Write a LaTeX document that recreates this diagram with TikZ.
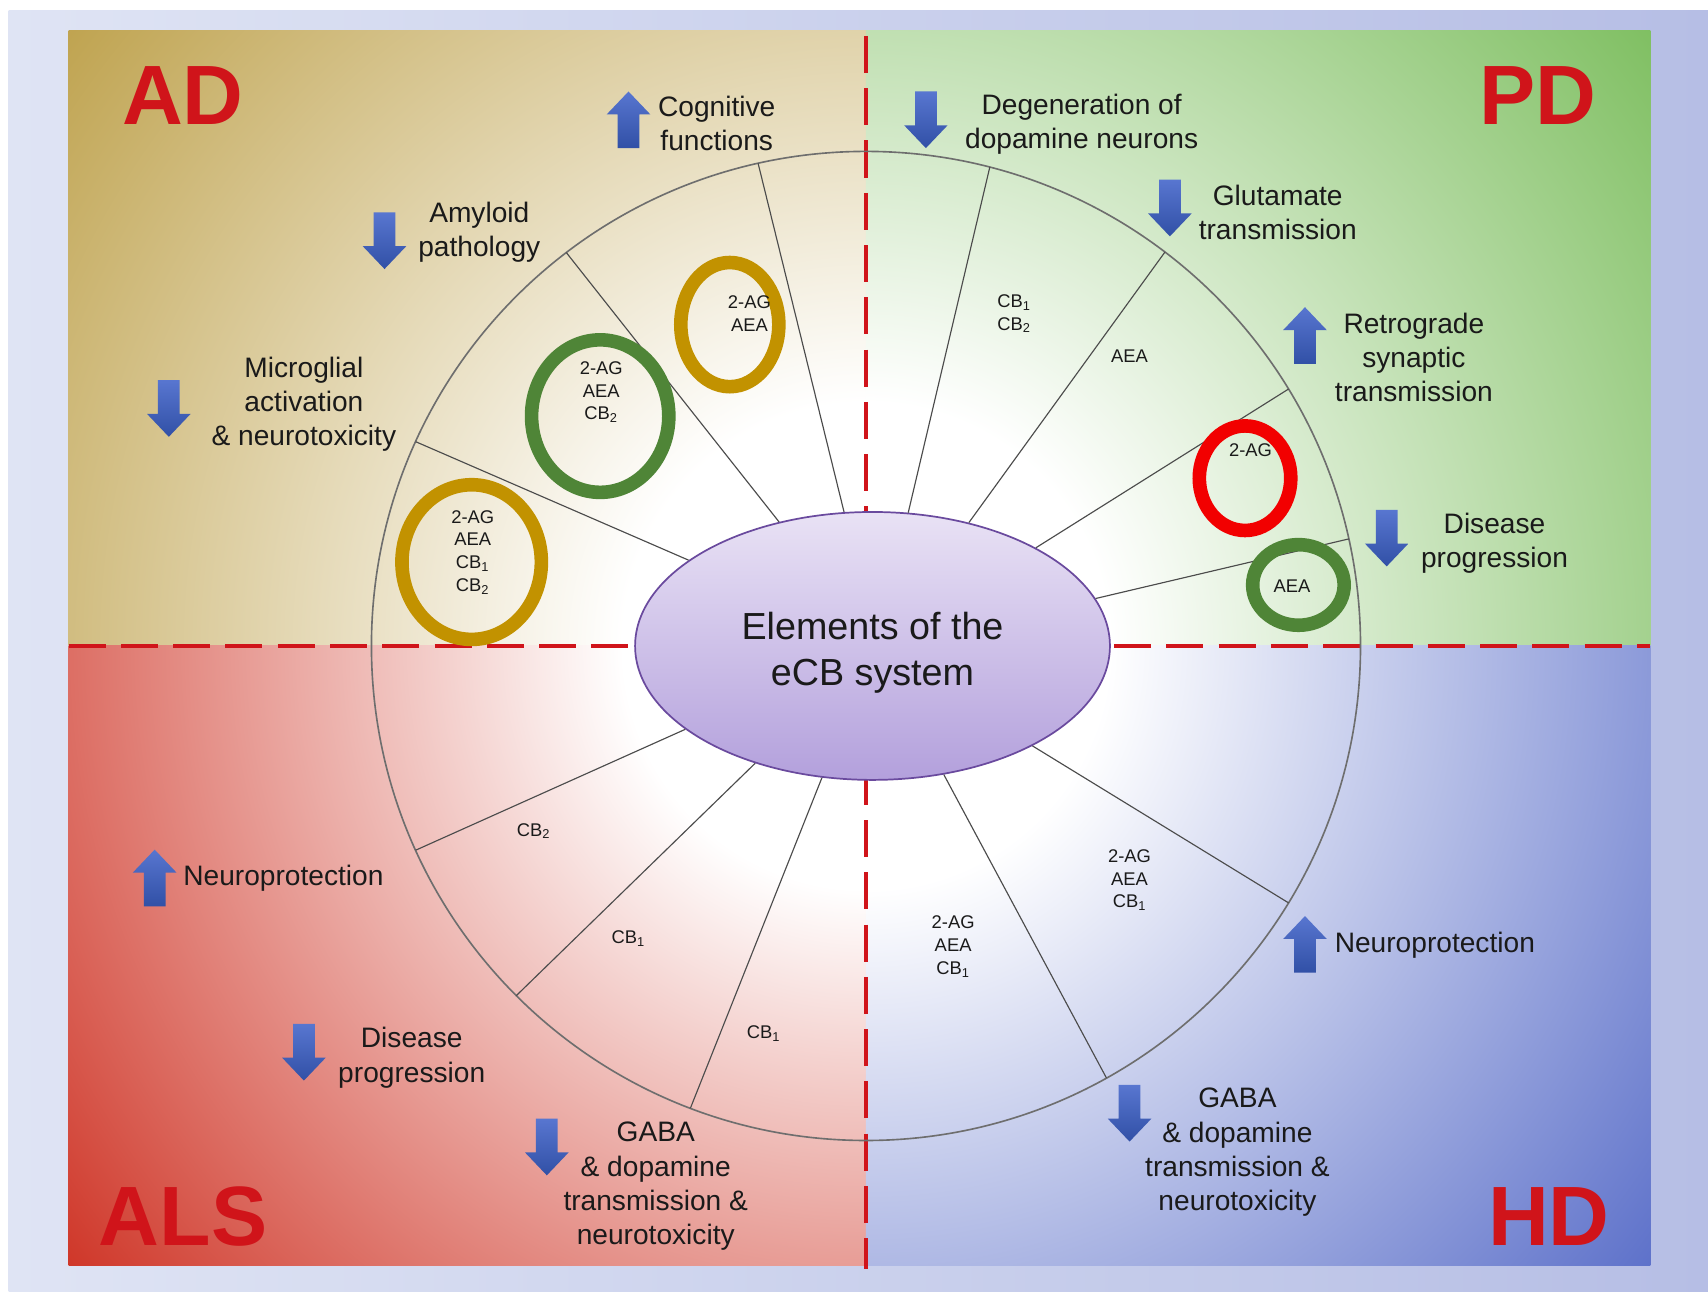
\documentclass[tikz,border=0pt]{standalone}
\usepackage{fontspec}
\setmainfont{Liberation Sans}
\usetikzlibrary{shapes.geometric}

\definecolor{adgold}{HTML}{BFA34F}
\definecolor{pdgreen}{HTML}{7DBE5F}
\definecolor{alsred}{HTML}{CF3628}
\definecolor{hdblue}{HTML}{5B6FC9}
\definecolor{bgleft}{HTML}{DFE4F4}
\definecolor{bgright}{HTML}{B6BEE5}
\definecolor{labred}{HTML}{D0141A}
\definecolor{ringgold}{HTML}{C29200}
\definecolor{ringgreen}{HTML}{4F8537}
\definecolor{ringred}{HTML}{F20000}
\definecolor{arrlt}{HTML}{5876D0}
\definecolor{arrdk}{HTML}{3150A6}
\definecolor{ecbtop}{HTML}{E9E2F5}
\definecolor{ecbbot}{HTML}{B3A0DC}
\definecolor{ecbline}{HTML}{6A4A9E}
\definecolor{txt}{HTML}{1A1A1A}
\definecolor{wheel}{HTML}{6E6E6E}

\colorlet{quadcol}{adgold}
\pgfdeclareradialshading[quadcol]{quadglow}{\pgfpointorigin}{color(0bp)=(white);color(6bp)=(white);color(25bp)=(quadcol);color(50bp)=(quadcol)}

\tikzset{
  note/.style={font=\fontsize{14.7}{17.9}\selectfont, text=txt, align=center, inner sep=0pt},
  seglabel/.style={font=\fontsize{9.6}{11.9}\selectfont, text=txt, align=center, inner sep=0pt},
  disease/.style={font=\bfseries\fontsize{44}{46}\selectfont, text=labred, inner sep=0pt},
  ring/.style={line width=0.25cm},
  spoke/.style={draw=black!70, line width=0.6pt},
  divider/.style={draw=labred, line width=2.1pt, dash pattern=on 0.68cm off 0.28cm},
  ecb/.style={ellipse, draw=ecbline, line width=0.9pt, top color=ecbtop, bottom color=ecbbot,
    minimum width=8.72cm, minimum height=4.92cm, inner sep=0pt},
  ecbtext/.style={align=center, inner sep=0pt, font=\fontsize{19.7}{23.8}\selectfont, text=txt},
  pics/dnarr/.style={code={
    \shade[top color=arrlt, bottom color=arrdk] (-10,26) -- (10,26) -- (10,-5) -- (20,-5)
      -- (0,-26) -- (-20,-5) -- (-10,-5) -- cycle;}},
  pics/uparr/.style={code={
    \shade[top color=arrlt, bottom color=arrdk] (-10,-26) -- (10,-26) -- (10,5) -- (20,5)
      -- (0,26) -- (-20,5) -- (-10,5) -- cycle;}},
}

\begin{document}
\begin{tikzpicture}[x=0.02cm,y=0.02cm]
\useasboundingbox (-795,-593) rectangle (773,593);
\fill[white] (-795,-593) rectangle (773,593);
\shade[left color=bgleft, right color=bgright] (-787,-593) rectangle (773,583);

% four disease quadrants
\foreach \xa/\ya/\xb/\yb/\qc in {-732/0/0/565/adgold, 0/0/720/565/pdgreen,
    -732/-569/0/0/alsred, 0/-569/720/0/hdblue}{
  \begin{scope}
    \clip (\xa,\ya) rectangle (\xb,\yb);
    \colorlet{quadcol}{\qc}
    \shade[shading=quadglow] (0,0) circle[radius=930];
  \end{scope}
}

% dashed dividers
\coordinate (vtop) at (0,560);
\coordinate (vbot) at (0,-572);
\coordinate (hlft) at (-732,0);
\coordinate (hrgt) at (720,0);
\draw[divider] (vtop) -- (vbot);
\draw[divider] (hlft) -- (hrgt);

% wheel and centre
\draw[wheel, line width=0.85pt] (0,0) circle[radius=454];
\node[ecb] (ecb) at (6,0) {};
\node[ecbtext] (ecbt) at (6,-6) {Elements of the\\eCB system};
\foreach \a in {12.5,31.3,52.8,75.5,102.6,127.3,155.6,204.4,225,249.2,299.1,328.7}
  \draw[spoke] (ecb.\a) -- (\a:454);

% highlighted rings
\draw[ring, ringgold] (-125,295) ellipse[x radius=45, y radius=57];
\draw[ring, ringgreen] (-244,211) ellipse[x radius=63, y radius=70];
\draw[ring, ringgold] (-362,77) ellipse[x radius=64, y radius=71];
\draw[ring, ringred] (348,154) ellipse[x radius=42, y radius=48];
\draw[ring, ringgreen] (397,56) ellipse[x radius=42, y radius=37];

% segment contents
\node[seglabel] (ad1) at (-107,305) {2-AG\\AEA};
\node[seglabel] (ad2) at (-243,233) {2-AG\\AEA\\CB\textsubscript{2}};
\node[seglabel] (ad3) at (-361,86) {2-AG\\AEA\\CB\textsubscript{1}\\CB\textsubscript{2}};
\node[seglabel] (pd1) at (136,305) {CB\textsubscript{1}\\CB\textsubscript{2}};
\node[seglabel] (pd2) at (242,266) {AEA};
\node[seglabel] (pd3) at (353,180) {2-AG};
\node[seglabel] (pd4) at (391,55) {AEA};
\node[seglabel] (als1) at (-305,-170) {CB\textsubscript{2}};
\node[seglabel] (als2) at (-218,-269) {CB\textsubscript{1}};
\node[seglabel] (als3) at (-94,-356) {CB\textsubscript{1}};
\node[seglabel] (hd1) at (80,-276) {2-AG\\AEA\\CB\textsubscript{1}};
\node[seglabel] (hd2) at (242,-215) {2-AG\\AEA\\CB\textsubscript{1}};

% disease names
\node[disease] (ad) at (-627,505) {AD};
\node[disease] (pd) at (617,505) {PD};
\node[disease] (als) at (-627,-524) {ALS};
\node[disease] (hd) at (627,-524) {HD};

% AD effects
\pic (cognar) at (-218,483) {uparr};
\node[note] (cogn) at (-137,480) {Cognitive\\functions};
\pic (amylar) at (-442,372) {dnarr};
\node[note] (amyl) at (-355,380) {Amyloid\\pathology};
\pic (micrar) at (-640,218) {dnarr};
\node[note] (micr) at (-516,222) {Microglial\\activation\\\& neurotoxicity};

% PD effects
\pic (degar) at (55,483) {dnarr};
\node[note] (deg) at (198,479) {Degeneration of\\dopamine neurons};
\pic (glutar) at (279,402) {dnarr};
\node[note] (glut) at (378,398) {Glutamate\\transmission};
\pic (retrar) at (403,285) {uparr};
\node[note] (retr) at (503,265) {Retrograde\\synaptic\\transmission};
\pic (pdprogar) at (478,99) {dnarr};
\node[note] (pdprog) at (577,94) {Disease\\progression};

% ALS effects
\pic (alsprotar) at (-653,-213) {uparr};
\node[note, anchor=west] (alsprot) at (-627,-213) {Neuroprotection};
\pic (alsprogar) at (-516,-373) {dnarr};
\node[note] (alsprog) at (-417,-378) {Disease\\progression};
\pic (alsgabaar) at (-293,-460) {dnarr};
\node[note] (alsgaba) at (-193,-496) {GABA\\\& dopamine\\transmission \&\\neurotoxicity};

% HD effects
\pic (hdprotar) at (403,-274) {uparr};
\node[note, anchor=west] (hdprot) at (430,-275) {Neuroprotection};
\pic (hdgabaar) at (242,-429) {dnarr};
\node[note] (hdgaba) at (341,-465) {GABA\\\& dopamine\\transmission \&\\neurotoxicity};
\end{tikzpicture}
\end{document}
